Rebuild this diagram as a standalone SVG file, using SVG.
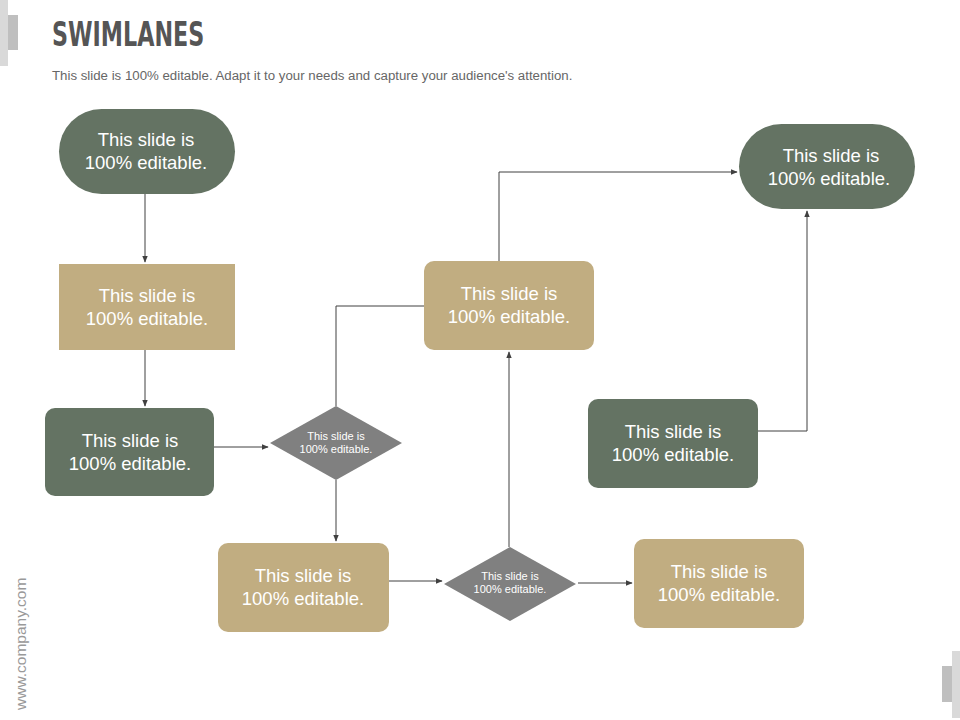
<svg xmlns="http://www.w3.org/2000/svg" width="960" height="720" viewBox="0 0 960 720">
<defs>
<marker id="ah" viewBox="0 0 10 10" refX="9" refY="5" markerWidth="7" markerHeight="7" orient="auto"><path d="M0,1 L10,5 L0,9 z" fill="#404040"/></marker>
<style>
.g{fill:#647363}.t{fill:#C1AD81}.d{fill:#808080}
.lbl{font-family:"Liberation Sans",Arial,sans-serif;font-size:18.5px;fill:#fff;text-anchor:middle}
.sm{font-family:"Liberation Sans",Arial,sans-serif;font-size:11px;fill:#fff;text-anchor:middle}
.c{fill:none;stroke:#404040;stroke-width:1}
</style>
</defs>
<rect width="960" height="720" fill="#fff"/>
<rect x="0" y="0" width="8" height="66" fill="#d9d9d9"/>
<rect x="8" y="15" width="10" height="35" fill="#bfbfbf"/>
<rect x="952" y="651" width="8" height="67" fill="#d9d9d9"/>
<rect x="942" y="666" width="10" height="36" fill="#bfbfbf"/>
<text x="52" y="46" font-family="'Liberation Sans Narrow','DejaVu Sans Condensed',sans-serif" font-weight="bold" font-size="33" fill="#555" transform="translate(52 0) scale(0.75 1) translate(-52 0)">SWIMLANES</text>
<text x="52" y="80" font-family="'Liberation Sans',Arial,sans-serif" font-size="13.25" fill="#666">This slide is 100% editable. Adapt it to your needs and capture your audience's attention.</text>
<text transform="translate(26 710) rotate(-90)" font-family="'Liberation Sans',Arial,sans-serif" font-size="15.5" fill="#999">www.company.com</text>
<g id="connectors">
<path class="c" d="M145,194 V262" marker-end="url(#ah)"/>
<path class="c" d="M145,350 V406" marker-end="url(#ah)"/>
<path class="c" d="M214,447 H268" marker-end="url(#ah)"/>
<path class="c" d="M336,406 V306 H424"/>
<path class="c" d="M336,480 V541" marker-end="url(#ah)"/>
<path class="c" d="M389,581 H442" marker-end="url(#ah)"/>
<path class="c" d="M509,547 V352" marker-end="url(#ah)"/>
<path class="c" d="M578,583 H632" marker-end="url(#ah)"/>
<path class="c" d="M499,261 V172 H737" marker-end="url(#ah)"/>
<path class="c" d="M758,431 H807 V211" marker-end="url(#ah)"/>
</g>
<g id="n1"><rect class="g" x="59" y="109" width="176" height="85" rx="42.5"/><text class="lbl" x="146" y="146">This slide is</text><text class="lbl" x="146" y="169">100% editable.</text></g>
<g id="n2"><rect class="t" x="59" y="264" width="176" height="86"/><text class="lbl" x="147" y="302">This slide is</text><text class="lbl" x="147" y="325">100% editable.</text></g>
<g id="n3"><rect class="g" x="45" y="408" width="169" height="88" rx="10"/><text class="lbl" x="130" y="447">This slide is</text><text class="lbl" x="130" y="470">100% editable.</text></g>
<g id="n4"><path class="d" d="M336,406 L402,443 L336,480 L270,443 z"/><text class="sm" x="336" y="440">This slide is</text><text class="sm" x="336" y="453">100% editable.</text></g>
<g id="n5"><rect class="t" x="424" y="261" width="170" height="89" rx="10"/><text class="lbl" x="509" y="300">This slide is</text><text class="lbl" x="509" y="323">100% editable.</text></g>
<g id="n6"><rect class="g" x="739" y="124" width="176" height="85" rx="42.5"/><text class="lbl" x="831" y="162">This slide is</text><text class="lbl" x="829" y="185">100% editable.</text></g>
<g id="n7"><rect class="g" x="588" y="399" width="170" height="89" rx="10"/><text class="lbl" x="673" y="438">This slide is</text><text class="lbl" x="673" y="461">100% editable.</text></g>
<g id="n8"><rect class="t" x="218" y="543" width="171" height="89" rx="10"/><text class="lbl" x="303" y="582">This slide is</text><text class="lbl" x="303" y="605">100% editable.</text></g>
<g id="n9"><path class="d" d="M510,547 L576,584 L510,621 L444,584 z"/><text class="sm" x="510" y="580">This slide is</text><text class="sm" x="510" y="593">100% editable.</text></g>
<g id="n10"><rect class="t" x="634" y="539" width="170" height="89" rx="10"/><text class="lbl" x="719" y="578">This slide is</text><text class="lbl" x="719" y="601">100% editable.</text></g>
</svg>
